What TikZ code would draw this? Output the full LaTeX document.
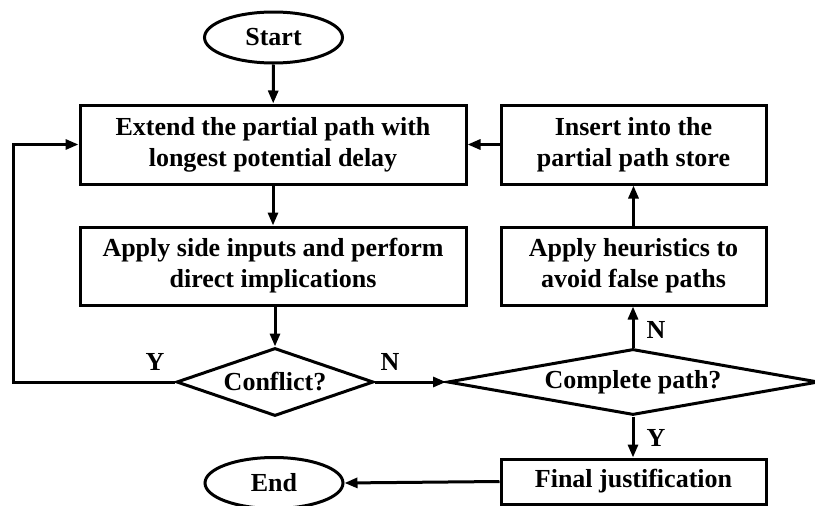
\documentclass[tikz,border=0pt]{standalone}
\usepackage{fontspec}
\setmainfont{Liberation Serif}
\usetikzlibrary{shapes.geometric,arrows.meta}
\begin{document}
\begin{tikzpicture}[x=1pt,y=-1pt,
  every node/.style={font=\fontsize{26}{31}\selectfont\bfseries, inner sep=0pt},
  box/.style={draw, line width=3pt, rectangle, align=center, minimum width=265pt},
  term/.style={draw, line width=3pt, ellipse, minimum width=138pt, minimum height=51pt},
  dec/.style={draw, line width=3pt, diamond},
  conn/.style={line width=3pt, -{Triangle[length=13pt,width=10pt]}},
  lbl/.style={}
]
\useasboundingbox (0,0) rectangle (815,506);
\node[term] (start) at (273.5,37.5) {Start};
\node[box, minimum width=386pt, minimum height=79pt] (ext) at (273,144.5) {Extend the partial path with\\longest potential delay};
\node[box, minimum width=386pt, minimum height=78pt] (side) at (273,266) {Apply side inputs and perform\\direct implications};
\node[dec, minimum width=197pt, minimum height=68pt, aspect=2.9] (conf) at (275,382) {Conflict?};
\node[dec, minimum width=371pt, minimum height=66pt, aspect=5.6] (comp) at (633,382) {Complete path?};
\node[box, minimum height=78pt] (heur) at (633.5,266) {Apply heuristics to\\avoid false paths};
\node[box, minimum height=79pt] (ins) at (633.5,144.5) {Insert into the\\partial path store};
\node[box, minimum height=45pt] (final) at (633.5,481.5) {Final justification};
\node[term] (end) at (274,483) {End};
\coordinate (loop) at (13,382);

\draw[conn] (start) -- (ext);
\draw[conn] (ext) -- (side);
\draw[conn] (side.south -| conf.north) -- (conf.north);
\draw[conn] (conf.west) -- (loop) |- (ext.west);
\draw[conn] (conf.east) -- (comp.west);
\draw[conn] (comp.north) -- (heur.south -| comp.north);
\draw[conn] (heur) -- (ins);
\draw[conn] (ins.west) -- (ext.east);
\draw[conn] (comp.south) -- (final.north -| comp.south);
\draw[conn] (final.west) -- (end.east);

\node[lbl] (ly1) at (155,362) {Y};
\node[lbl] (ln1) at (390,362) {N};
\node[lbl] (ln2) at (656,330) {N};
\node[lbl] (ly2) at (656,438) {Y};
\end{tikzpicture}
\end{document}
